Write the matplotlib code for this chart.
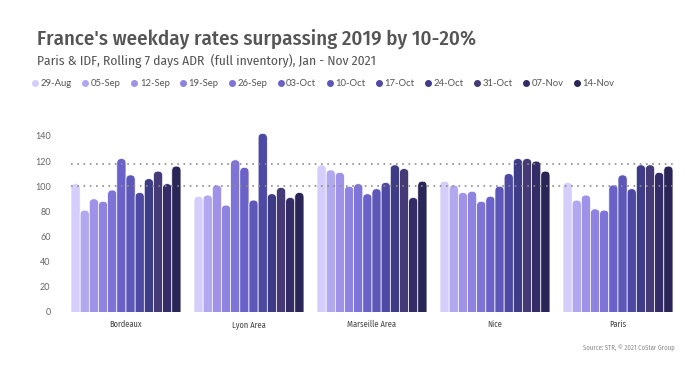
import numpy as np
import matplotlib
matplotlib.use("Agg")
import matplotlib.pyplot as plt
from matplotlib.patches import FancyBboxPatch
from matplotlib.lines import Line2D

markets = ["Bordeaux", "Lyon Area", "Marseille Area", "Nice", "Paris"]
weeks = ["29-Aug", "05-Sep", "12-Sep", "19-Sep", "26-Sep", "03-Oct",
         "10-Oct", "17-Oct", "24-Oct", "31-Oct", "07-Nov", "14-Nov"]

# ADR per market, one value per week
bordeaux = [102, 81, 90, 88, 97, 122, 109, 95, 106, 112, 102, 116]
lyon = [92, 93, 101, 85, 121, 115, 89, 142, 94, 99, 91, 95]
marseille = [117, 113, 111, 100, 102, 94, 98, 103, 117, 114, 91, 104]
nice = [104, 101, 95, 96, 88, 92, 100, 110, 122, 122, 120, 112]
paris = [103, 89, 93, 82, 81, 101, 109, 98, 117, 117, 111, 116]

ref_lines = [100, 118]

colors = ['#d5cdfa', '#b2a8f0', '#9f92e8', '#8e83e0', '#7e73d6', '#6a61c9',
          '#5d57b8', '#4e4aa3', '#3e3c87', '#453a76', '#342c66', '#292556']

values = np.array([bordeaux, lyon, marseille, nice, paris])

fig = plt.figure(figsize=(7, 3.67), dpi=100)
ax = fig.add_axes([0.0921, 0.1499, 0.8786, 0.514])
ax.set_xlim(-0.5, len(markets) - 0.5)
ax.set_ylim(0, 150)

group_w = 0.894
w = group_w / len(weeks)
xc = np.arange(len(markets))

# pixel scale, to make round tops look circular
p0 = ax.transData.transform((0, 0))
p1 = ax.transData.transform((1, 1))
sx, sy = p1[0] - p0[0], p1[1] - p0[1]
r_x = w / 2 * 0.98
aspect = sx / sy
r_y = r_x * aspect

for j in range(len(weeks)):
    xs = xc + (j - (len(weeks) - 1) / 2) * w
    bars = ax.bar(xs, values[:, j], width=w, color=colors[j])
    for rect in bars:
        rect.set_visible(False)
        bx, bw, bh = rect.get_x(), rect.get_width(), rect.get_height()
        p = FancyBboxPatch((bx, -r_y), bw, bh + r_y,
                           boxstyle="round,pad=0,rounding_size=%f" % r_x,
                           mutation_aspect=aspect,
                           facecolor=colors[j], edgecolor='white', linewidth=0.5)
        ax.add_patch(p)

for y in ref_lines:
    ax.hlines(y, -group_w / 2, len(markets) - 1 + group_w / 2, colors='#8c8c8c',
              linestyles=(0, (1, 2.75)), linewidth=1.2, zorder=5)

ax.set_yticks(range(0, 141, 20))
ax.set_xticks(xc)
ax.set_xticklabels(markets, fontfamily='Fira Sans Condensed', fontsize=6, color='#444444')
ax.tick_params(axis='x', length=0, pad=6)
ax.tick_params(axis='y', length=0, pad=10, labelsize=6.5, labelcolor='#666666')
for lab in ax.get_yticklabels():
    lab.set_fontfamily('Lato')
for s in ax.spines.values():
    s.set_visible(False)

fig.text(37 / 700, 1 - 45 / 367, "France's weekday rates surpassing 2019 by 10-20%",
         fontfamily='Fira Sans Condensed', fontweight='medium', fontsize=15,
         color='#555555', va='baseline')
fig.text(37 / 700, 1 - 65 / 367, "Paris & IDF, Rolling 7 days ADR  (full inventory), Jan - Nov 2021",
         fontfamily='Fira Sans Condensed', fontsize=9.7, color='#555555', va='baseline')

handles = [Line2D([], [], marker='o', linestyle='none', markersize=4,
                  markerfacecolor=c, markeredgecolor=c) for c in colors]
fig.legend(handles, weeks, loc='center left', bbox_to_anchor=(33 / 700, 1 - 84 / 367),
           ncol=len(weeks), frameon=False, handlelength=0.5, handletextpad=0.35,
           columnspacing=1.15, borderaxespad=0, borderpad=0,
           prop={'family': 'Lato', 'size': 6.8}, labelcolor='#555555')

fig.text(675 / 700, 1 - 348 / 367, "Source: STR, \u00a9 2021 CoStar Group",
         fontfamily='Fira Sans Condensed', fontsize=4.8, color='#888888', ha='right', va='center')

fig.savefig("out.png", dpi=100)
